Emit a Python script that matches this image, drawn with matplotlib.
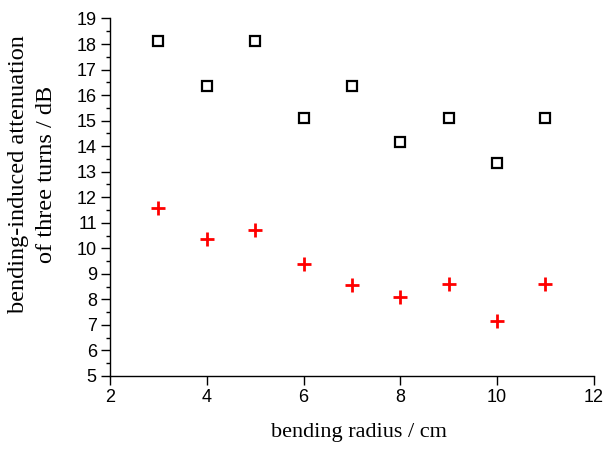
import matplotlib
matplotlib.use("Agg")
import matplotlib.pyplot as plt
from matplotlib.ticker import MultipleLocator

radius = [3, 4, 5, 6, 7, 8, 9, 10, 11]
atten_black = [18.12, 16.37, 18.12, 15.12, 16.37, 14.15, 15.12, 13.35, 15.12]
atten_red = [11.59, 10.35, 10.72, 9.38, 8.57, 8.11, 8.59, 7.16, 8.59]

fig = plt.figure(figsize=(6.06, 4.51), dpi=100)
ax = fig.add_axes([0.1815, 0.1663, 0.7985, 0.7927])

ax.plot(radius, atten_black, linestyle='none', marker='s', markersize=7,
        markerfacecolor='white', markeredgecolor='black', markeredgewidth=1.6)
ax.plot(radius, atten_red, linestyle='none', marker='+', markersize=10,
        color='red', markeredgewidth=2)

ax.set_xlim(2, 12)
ax.set_ylim(5, 19)
ax.xaxis.set_major_locator(MultipleLocator(2))
ax.yaxis.set_major_locator(MultipleLocator(1))
ax.yaxis.set_minor_locator(MultipleLocator(0.5))

ax.spines['top'].set_visible(False)
ax.spines['right'].set_visible(False)
for s in ('left', 'bottom'):
    ax.spines[s].set_linewidth(1.0)

ax.tick_params(which='major', direction='out', length=6.5, width=1.0,
               labelsize=13, pad=3)
ax.tick_params(which='minor', direction='out', length=3, width=1.0)
for lab in ax.get_xticklabels() + ax.get_yticklabels():
    lab.set_family('Liberation Sans')

ax.set_xlabel('bending radius / cm', family='Liberation Serif', fontsize=16, va='top')
ax.xaxis.set_label_coords(0.514, -0.132)
ax.set_ylabel('bending-induced attenuation\nof three turns / dB',
              family='Liberation Serif', fontsize=17.5, linespacing=1.45)
ax.yaxis.set_label_coords(-0.11, 0.565)

fig.savefig('out.png', dpi=100)
